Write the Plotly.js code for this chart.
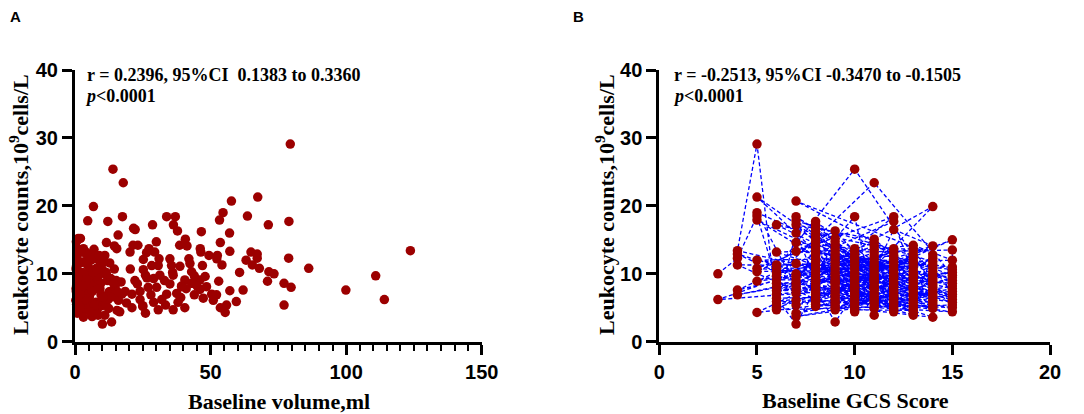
<!DOCTYPE html>
<html>
<head>
<meta charset="utf-8">
<script src="https://cdn.plot.ly/plotly-3.0.1.min.js"></script>
<style>
html,body{margin:0;padding:0;background:#fff;}
#chart{width:1084px;height:414px;}
</style>
</head>
<body>
<div id="chart"></div>
<script>
// ---------------- data ----------------
const gcsLevels = [3, 4, 5, 6, 7, 8, 9, 10, 11, 12, 13, 14, 15];

// leukocyte counts (10^9 cells/L) of each patient, grouped by baseline GCS score
const wbcByGcs = [
  [10.0, 6.2],
  [12.3, 7.6, 13.4, 6.9, 11.3, 12.9],
  [18.5, 8.9, 29.1, 12.0, 4.3, 21.3, 10.3, 19.0, 10.8, 17.9],
  [9.1, 17.2, 5.4, 10.8, 7.0, 13.2, 4.7, 8.6, 10.2, 5.9, 11.3, 7.5, 6.4, 9.7, 5.0, 8.0],
  [9.1, 20.7, 6.1, 13.3, 3.7, 10.0, 17.2, 8.1, 5.4, 18.4, 7.6, 14.6, 2.6, 9.6, 16.0, 7.1, 4.2, 11.5, 8.6, 17.8],
  [12.2, 7.3, 15.2, 9.3, 17.7, 6.1, 11.2, 8.5, 14.2, 5.5, 10.2, 16.7, 7.7, 13.2, 9.0, 6.5, 12.7, 8.1, 15.7, 5.8, 11.7, 14.7, 9.7, 6.9, 17.2, 10.7, 13.7, 8.9, 5.2, 16.2],
  [10.2, 14.2, 7.0, 12.2, 5.0, 8.6, 16.3, 9.8, 11.7, 6.6, 13.2, 8.2, 2.9, 10.7, 15.2, 7.4, 12.7, 5.8, 9.4, 13.7, 6.2, 11.2, 8.8, 4.7, 14.7, 9.0, 7.8, 5.4],
  [9.4, 13.2, 6.6, 25.4, 11.2, 7.8, 5.0, 12.2, 8.6, 10.2, 4.4, 13.7, 7.0, 9.8, 18.4, 6.2, 11.7, 8.2, 5.4, 12.7, 10.7, 7.4, 9.0, 4.7, 12.2, 5.8, 8.0],
  [10.1, 14.1, 6.9, 12.1, 8.5, 5.3, 15.1, 9.3, 11.1, 7.3, 13.6, 4.9, 8.9, 23.4, 6.1, 12.6, 9.7, 3.9, 11.6, 7.7, 14.6, 5.7, 10.6, 8.1, 13.1, 6.5, 9.0, 7.9],
  [9.4, 13.2, 6.2, 18.4, 11.2, 7.4, 4.7, 10.2, 12.7, 8.2, 16.5, 5.4, 9.8, 11.7, 7.0, 13.7, 8.6, 17.7, 5.8, 10.7, 6.6, 12.2, 4.4, 9.0, 7.8, 5.0],
  [8.6, 12.2, 5.4, 10.7, 7.0, 13.7, 4.2, 9.4, 11.2, 6.2, 14.2, 8.2, 5.0, 10.2, 7.4, 12.7, 3.9, 9.8, 6.6, 13.2, 8.0, 5.8, 11.7, 4.6, 9.0, 7.8],
  [10.3, 6.1, 12.8, 8.5, 19.9, 5.3, 11.3, 7.7, 9.8, 3.6, 14.1, 6.9, 10.8, 4.9, 8.9, 12.3, 7.3, 5.7, 9.3, 11.8, 6.5, 8.1],
  [9.0, 13.5, 6.2, 11.0, 7.8, 15.0, 5.4, 10.2, 8.6, 4.4, 12.0, 7.0, 9.8, 5.8, 10.6, 6.6, 8.2, 5.0, 9.4, 7.4]
];

// baseline haematoma volume (ml) of the same patients, same order
const volByGcs = [
  [73.4, 114.1],
  [78.8, 99.9, 123.7, 52.2, 65.4, 67.2],
  [63.6, 71.0, 79.4, 63.1, 55.4, 67.4, 71.5, 54.6, 86.2, 53.3],
  [46.1, 36.3, 77.1, 68.0, 50.4, 64.9, 36.2, 77.1, 60.7, 59.5, 54.2, 57.1, 47.3, 110.9, 53.6, 79.7],
  [40.5, 57.7, 51.0, 57.1, 6.3, 3.0, 28.6, 48.5, 55.9, 33.8, 62.0, 53.6, 10.1, 48.0, 57.0, 37.5, 26.0, 42.4, 43.6, 4.7],
  [8.0, 12.5, 1.2, 3.5, 12.1, 16.0, 30.7, 35.0, 21.4, 0.6, 36.0, 21.6, 1.8, 2.5, 7.3, 4.2, 49.4, 9.0, 15.9, 38.0, 1.0, 30.0, 44.0, 28.0, 71.3, 5.5, 46.2, 53.0, 25.0, 46.6],
  [1.5, 38.6, 21.0, 31.0, 2.2, 9.5, 37.8, 31.3, 2.8, 3.2, 4.0, 0.9, 13.5, 14.5, 2.0, 13.0, 11.0, 7.8, 6.0, 27.3, 24.0, 47.0, 17.0, 30.7, 0.5, 33.0, 41.0, 33.4],
  [3.8, 29.4, 2.6, 14.0, 35.6, 6.8, 40.5, 5.2, 1.6, 11.5, 1.1, 15.4, 33.8, 36.2, 37.0, 10.5, 9.4, 39.3, 4.5, 52.5, 0.4, 18.5, 15.2, 8.2, 35.0, 29.0, 27.0],
  [2.1, 41.3, 44.0, 25.2, 23.0, 9.9, 40.7, 29.0, 38.7, 5.8, 7.0, 2.9, 1.4, 17.8, 0.3, 0.7, 8.7, 8.5, 12.8, 46.1, 11.6, 19.0, 25.2, 14.8, 26.4, 11.8, 22.1, 4.8],
  [5.0, 46.4, 32.0, 17.5, 28.3, 24.0, 4.4, 1.9, 6.2, 0.6, 22.2, 11.3, 26.0, 2.4, 3.6, 0.9, 43.0, 78.9, 1.7, 10.0, 14.0, 42.0, 16.5, 12.0, 7.5, 21.0],
  [2.7, 52.3, 7.6, 20.4, 17.3, 3.1, 0.8, 26.5, 4.7, 12.2, 23.2, 45.0, 3.9, 6.5, 0.5, 8.9, 11.0, 1.2, 5.3, 20.3, 30.1, 2.3, 0.8, 15.5, 13.8, 9.2],
  [43.0, 1.3, 4.3, 5.6, 6.8, 25.0, 1.0, 2.0, 3.3, 3.1, 14.5, 9.6, 7.9, 12.4, 0.7, 67.2, 15.8, 6.6, 13.2, 10.8, 39.0, 39.3],
  [4.1, 2.3, 3.7, 0.5, 0.4, 0.8, 7.1, 2.6, 14.2, 5.6, 5.9, 1.8, 11.6, 0.9, 8.0, 10.4, 2.9, 2.0, 1.0, 6.4]
];

const xTicksA = [0, 50, 100, 150];
const xTicksB = [0, 5, 10, 15, 20];
const yTicks = [0, 10, 20, 30, 40];

const statTextA = 'r = 0.2396, 95%CI&nbsp; 0.1383 to 0.3360';
const statTextB = 'r = -0.2513, 95%CI -0.3470 to -0.1505';
const pText = '<i>p</i>&lt;0.0001';
const yTitle = 'Leukocyte counts,10<sup>9</sup>cells/L';
const xTitleA = 'Baseline volume,ml';
const xTitleB = 'Baseline GCS Score';

// ---------------- traces ----------------
const volFlat = [], wbcFlat = [];
volByGcs.forEach((arr, c) => arr.forEach((v, j) => { volFlat.push(v); wbcFlat.push(wbcByGcs[c][j]); }));

// order in which the connecting dashed line visits the patients
const mults = [1, 5, 12, 3, 8, 2, 10, 7, 4, 11, 6, 9];
const maxN = Math.max(...wbcByGcs.map(a => a.length));
const lineX = [], lineY = [];
for (let r = 0; r < maxN; r++) {
  const m = mults[r % mults.length];
  const cols = gcsLevels.map((g, i) => i).sort((a, b) => (((a + r) * m) % 13) - (((b + r) * m) % 13));
  for (const c of cols) {
    if (r < wbcByGcs[c].length) { lineX.push(gcsLevels[c]); lineY.push(wbcByGcs[c][r]); }
  }
}

const red = '#9c0000';
const traces = [
  {
    type: 'scatter', mode: 'markers', x: volFlat, y: wbcFlat, xaxis: 'x', yaxis: 'y',
    marker: {color: red, size: 9.5, line: {width: 0}}, cliponaxis: false, hoverinfo: 'skip'
  },
  {
    type: 'scatter', mode: 'lines+markers', x: lineX, y: lineY, xaxis: 'x2', yaxis: 'y2',
    line: {color: '#0000ff', width: 1.3, dash: '4px,2.5px'},
    marker: {color: red, size: 9.5, line: {width: 0}}, cliponaxis: false, hoverinfo: 'skip'
  }
];

// ---------------- layout ----------------
const W = 1084, H = 414;
const px = v => v / W, py = v => (H - v) / H;
const serif = 'Liberation Serif, Times New Roman, serif';
const sans = 'Liberation Sans, Arial, sans-serif';

const axisBase = {
  showline: true, linewidth: 3, linecolor: '#000', mirror: false,
  ticks: 'outside', ticklen: 10, tickwidth: 3, tickcolor: '#000',
  showgrid: false, zeroline: false, fixedrange: true,
  tickfont: {family: sans, size: 20, color: '#000', weight: 'bold'},
  tickmode: 'array'
};
const yDomain = [py(341.7), py(70)];

const layout = {
  width: W, height: H,
  margin: {l: 0, r: 0, t: 0, b: 0},
  paper_bgcolor: '#fff', plot_bgcolor: 'rgba(0,0,0,0)',
  showlegend: false,
  xaxis: Object.assign({}, axisBase, {
    domain: [px(75), px(481.7)], range: [0, 150], anchor: 'y',
    tickvals: xTicksA, ticktext: xTicksA.map(String),
    minor: {dtick: 5, tick0: 0, ticks: 'outside', ticklen: 6, tickwidth: 2, tickcolor: '#000', showgrid: false}
  }),
  yaxis: Object.assign({}, axisBase, {
    domain: yDomain, range: [0, 40], anchor: 'x',
    tickvals: yTicks, ticktext: yTicks.map(String)
  }),
  xaxis2: Object.assign({}, axisBase, {
    domain: [px(659.3), px(1050)], range: [0, 20], anchor: 'y2',
    tickvals: xTicksB, ticktext: xTicksB.map(String)
  }),
  yaxis2: Object.assign({}, axisBase, {
    domain: yDomain, range: [0, 40], anchor: 'x2',
    tickvals: yTicks, ticktext: yTicks.map(String)
  }),
  annotations: [
    {text: 'A', x: px(8), y: py(17), xanchor: 'left', yanchor: 'middle', font: {family: sans, size: 15, color: '#000', weight: 'bold'}},
    {text: 'B', x: px(571), y: py(17), xanchor: 'left', yanchor: 'middle', font: {family: sans, size: 15, color: '#000', weight: 'bold'}},
    {text: statTextA, x: px(85), y: py(75), xanchor: 'left', yanchor: 'middle', font: {family: serif, size: 18, color: '#000', weight: 'bold'}},
    {text: pText, x: px(83), y: py(96), xanchor: 'left', yanchor: 'middle', font: {family: serif, size: 18, color: '#000', weight: 'bold'}},
    {text: statTextB, x: px(672), y: py(75), xanchor: 'left', yanchor: 'middle', font: {family: serif, size: 18, color: '#000', weight: 'bold'}},
    {text: pText, x: px(671), y: py(96), xanchor: 'left', yanchor: 'middle', font: {family: serif, size: 18, color: '#000', weight: 'bold'}},
    {text: yTitle, textangle: -90, x: px(19), y: py(205), xanchor: 'center', yanchor: 'middle', font: {family: serif, size: 22, color: '#000', weight: 'bold'}},
    {text: yTitle, textangle: -90, x: px(605), y: py(205), xanchor: 'center', yanchor: 'middle', font: {family: serif, size: 22, color: '#000', weight: 'bold'}},
    {text: xTitleA, x: px(278.5), y: py(401), xanchor: 'center', yanchor: 'middle', font: {family: serif, size: 22, color: '#000', weight: 'bold'}},
    {text: xTitleB, x: px(855), y: py(400), xanchor: 'center', yanchor: 'middle', font: {family: serif, size: 22, color: '#000', weight: 'bold'}}
  ].map(a => Object.assign({xref: 'paper', yref: 'paper', showarrow: false}, a))
};

Plotly.newPlot('chart', traces, layout, {displayModeBar: false, staticPlot: true});
</script>
</body>
</html>
